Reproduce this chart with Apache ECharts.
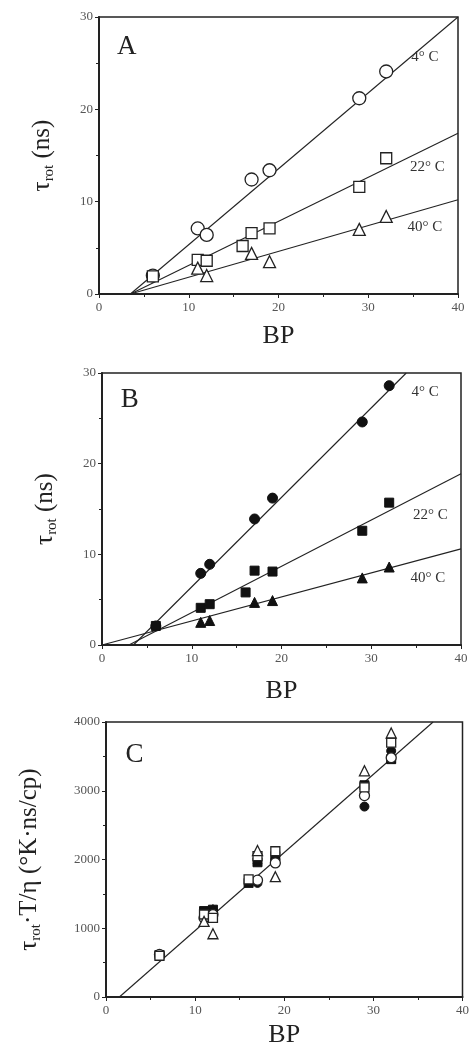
<!DOCTYPE html>
<html>
<head>
<meta charset="utf-8">
<script src="https://cdn.jsdelivr.net/npm/echarts@6/dist/echarts.min.js"></script>
<style>
  html, body { margin: 0; padding: 0; background: #fff; }
  #chart { width: 472px; height: 1053px; }
</style>
</head>
<body>
<div id="chart"></div>
<script>
// panel A: open symbols, panel B: filled symbols  [BP, tau_rot (ns)]
const aCircle = [[6, 2.0], [11, 7.1], [12, 6.4], [17, 12.4], [19, 13.4], [29, 21.2], [32, 24.1]]
const aSquare = [[6, 1.9], [11, 3.7], [12, 3.6], [16, 5.2], [17, 6.6], [19, 7.1], [29, 11.6], [32, 14.7]]
const aTriangle = [[11, 2.8], [12, 2.0], [17, 4.4], [19, 3.5], [29, 7.0], [32, 8.4]]

const bCircle = [[6, 2.1], [11, 7.9], [12, 8.9], [17, 13.9], [19, 16.2], [29, 24.6], [32, 28.6]]
const bSquare = [[6, 2.1], [11, 4.1], [12, 4.5], [16, 5.8], [17, 8.2], [19, 8.1], [29, 12.6], [32, 15.7]]
const bTriangle = [[11, 2.5], [12, 2.7], [17, 4.7], [19, 4.9], [29, 7.4], [32, 8.6]]

// panel C: tau_rot*T/eta  (open = A set, filled = B set)
const cOpenCircle = [[6, 620], [11, 1150], [12, 1200], [17, 1700], [19, 1950], [29, 2930], [32, 3480]]
const cOpenSquare = [[6, 600], [11, 1200], [12, 1150], [16, 1710], [17, 2050], [19, 2120], [29, 3050], [32, 3700]]
const cOpenTriangle = [[11, 1100], [12, 920], [17, 2130], [19, 1750], [29, 3290], [32, 3840]]
const cFillCircle = [[6, 600], [11, 1230], [12, 1260], [17, 1660], [19, 2000], [29, 2770], [32, 3580]]
const cFillSquare = [[6, 610], [11, 1250], [12, 1270], [16, 1660], [17, 1960], [19, 2050], [29, 3080], [32, 3460]]
const cFillTriangle = [[11, 1200], [12, 1280], [17, 2000], [19, 2000], [29, 2990], [32, 3470]]

// fitted lines (end points)
const aFit4 = [[3.5, 0], [40, 30]]
const aFit22 = [[3.5, 0], [40, 17.4]]
const aFit40 = [[3.5, 0], [40, 10.2]]
const bFit4 = [[3.5, 0], [33.9, 30]]
const bFit22 = [[3, 0], [40, 18.9]]
const bFit40 = [[0, 0], [40, 10.6]]
const cFit = [[1.5, 0], [36.7, 4000]]

const tempLabels = ['4° C', '22° C', '40° C']
const panelLabels = ['A', 'B', 'C']

const serif = '"Liberation Serif", "DejaVu Serif", serif'
const ink = '#222'

const grids = [
  { left: 99, right: 14, top: 17, height: 277 },
  { left: 102, right: 11, top: 373, height: 272 },
  { left: 106, right: 8, top: 722, height: 275 }
].map(g => ({ ...g, show: true, borderColor: ink, borderWidth: 1.5, backgroundColor: '#fff' }))

const xAxisFor = (gi, gap) => ({
  gridIndex: gi,
  type: 'value',
  min: 0,
  max: 40,
  interval: 10,
  name: 'BP',
  nameLocation: 'middle',
  nameGap: gap,
  nameTextStyle: { fontFamily: serif, fontSize: 26, color: ink },
  axisLine: { show: true, onZero: false, lineStyle: { color: ink, width: 2 } },
  axisTick: { show: true, length: 4, lineStyle: { color: ink } },
  minorTick: { show: true, splitNumber: 2, length: 3, lineStyle: { color: ink } },
  axisLabel: { fontFamily: serif, fontSize: 13, color: '#555', margin: 7 },
  splitLine: { show: false }
})

const tauName = '{t|τ}{s|rot}{t| (ns)}'
const richName = {
  t: { fontFamily: serif, fontSize: 25, color: ink, lineHeight: 30 },
  s: { fontFamily: serif, fontSize: 15, color: ink, lineHeight: 14, verticalAlign: 'bottom' }
}

const yAxisFor = (gi, max, interval, name, gap) => ({
  gridIndex: gi,
  type: 'value',
  min: 0,
  max: max,
  interval: interval,
  name: name,
  nameLocation: 'middle',
  nameGap: gap,
  nameTextStyle: { rich: richName },
  axisLine: { show: true, onZero: false, lineStyle: { color: ink, width: 2 } },
  axisTick: { show: true, length: 4, lineStyle: { color: ink } },
  minorTick: { show: true, splitNumber: 2, length: 3, lineStyle: { color: ink } },
  axisLabel: { fontFamily: serif, fontSize: 13, color: '#555', margin: 6, formatter: v => String(v) },
  splitLine: { show: false }
})

const openStyle = { color: '#fff', borderColor: ink, borderWidth: 1.3, opacity: 1 }
const fillStyle = { color: '#111', borderColor: '#111', borderWidth: 1, opacity: 1 }

const scatter = (gi, data, symbol, size, style) => ({
  type: 'scatter',
  xAxisIndex: gi,
  yAxisIndex: gi,
  data: data,
  symbol: symbol,
  symbolSize: size,
  itemStyle: style,
  z: 3
})

const fitLine = (gi, data, label, labelAt) => ({
  type: 'line',
  xAxisIndex: gi,
  yAxisIndex: gi,
  data: data,
  symbol: 'none',
  lineStyle: { color: ink, width: 1.1 },
  z: 2,
  markPoint: label ? {
    symbol: 'circle',
    symbolSize: 0,
    silent: true,
    label: { show: true, formatter: label, fontFamily: serif, fontSize: 15, color: '#333' },
    data: [{ coord: labelAt }]
  } : undefined
})

// text annotation anchors, in data units of each panel
const tempAt = [
  [[36.3, 25.7], [36.6, 13.8], [36.3, 7.2]],
  [[36.0, 27.9], [36.6, 14.3], [36.3, 7.4]]
]
const letterAt = [[3.1, 26.8], [3.1, 27.0], [3.2, 3520]]

const letter = (gi) => ({
  type: 'scatter',
  xAxisIndex: gi,
  yAxisIndex: gi,
  data: [letterAt[gi]],
  symbolSize: 0,
  silent: true,
  itemStyle: { opacity: 1 },
  label: { show: true, position: 'inside', formatter: panelLabels[gi], fontFamily: serif, fontSize: 27, color: ink }
})

const option = {
  animation: false,
  backgroundColor: '#fff',
  grid: grids,
  xAxis: [xAxisFor(0, 29), xAxisFor(1, 33), xAxisFor(2, 25)],
  yAxis: [
    yAxisFor(0, 30, 10, tauName, 42),
    yAxisFor(1, 30, 10, tauName, 42),
    yAxisFor(2, 4000, 1000, '{t|τ}{s|rot}{t|·T/η (°K·ns/cp)}', 62)
  ],
  series: [
    fitLine(0, aFit4, tempLabels[0], tempAt[0][0]),
    fitLine(0, aFit22, tempLabels[1], tempAt[0][1]),
    fitLine(0, aFit40, tempLabels[2], tempAt[0][2]),
    scatter(0, aCircle, 'circle', 13, openStyle),
    scatter(0, aSquare, 'rect', 11, openStyle),
    scatter(0, aTriangle, 'triangle', 12, openStyle),
    letter(0),

    fitLine(1, bFit4, tempLabels[0], tempAt[1][0]),
    fitLine(1, bFit22, tempLabels[1], tempAt[1][1]),
    fitLine(1, bFit40, tempLabels[2], tempAt[1][2]),
    scatter(1, bCircle, 'circle', 10, fillStyle),
    scatter(1, bSquare, 'rect', 9, fillStyle),
    scatter(1, bTriangle, 'triangle', 10, fillStyle),
    letter(1),

    fitLine(2, cFit),
    scatter(2, cFillCircle, 'circle', 9, fillStyle),
    scatter(2, cFillSquare, 'rect', 9, fillStyle),
    scatter(2, cFillTriangle, 'triangle', 9, fillStyle),
    scatter(2, cOpenCircle, 'circle', 10, openStyle),
    scatter(2, cOpenSquare, 'rect', 9, openStyle),
    scatter(2, cOpenTriangle, 'triangle', 10, openStyle),
    letter(2)
  ]
}

const chart = echarts.init(document.getElementById('chart'), null, { renderer: 'canvas' })
chart.setOption(option)
</script>
</body>
</html>
